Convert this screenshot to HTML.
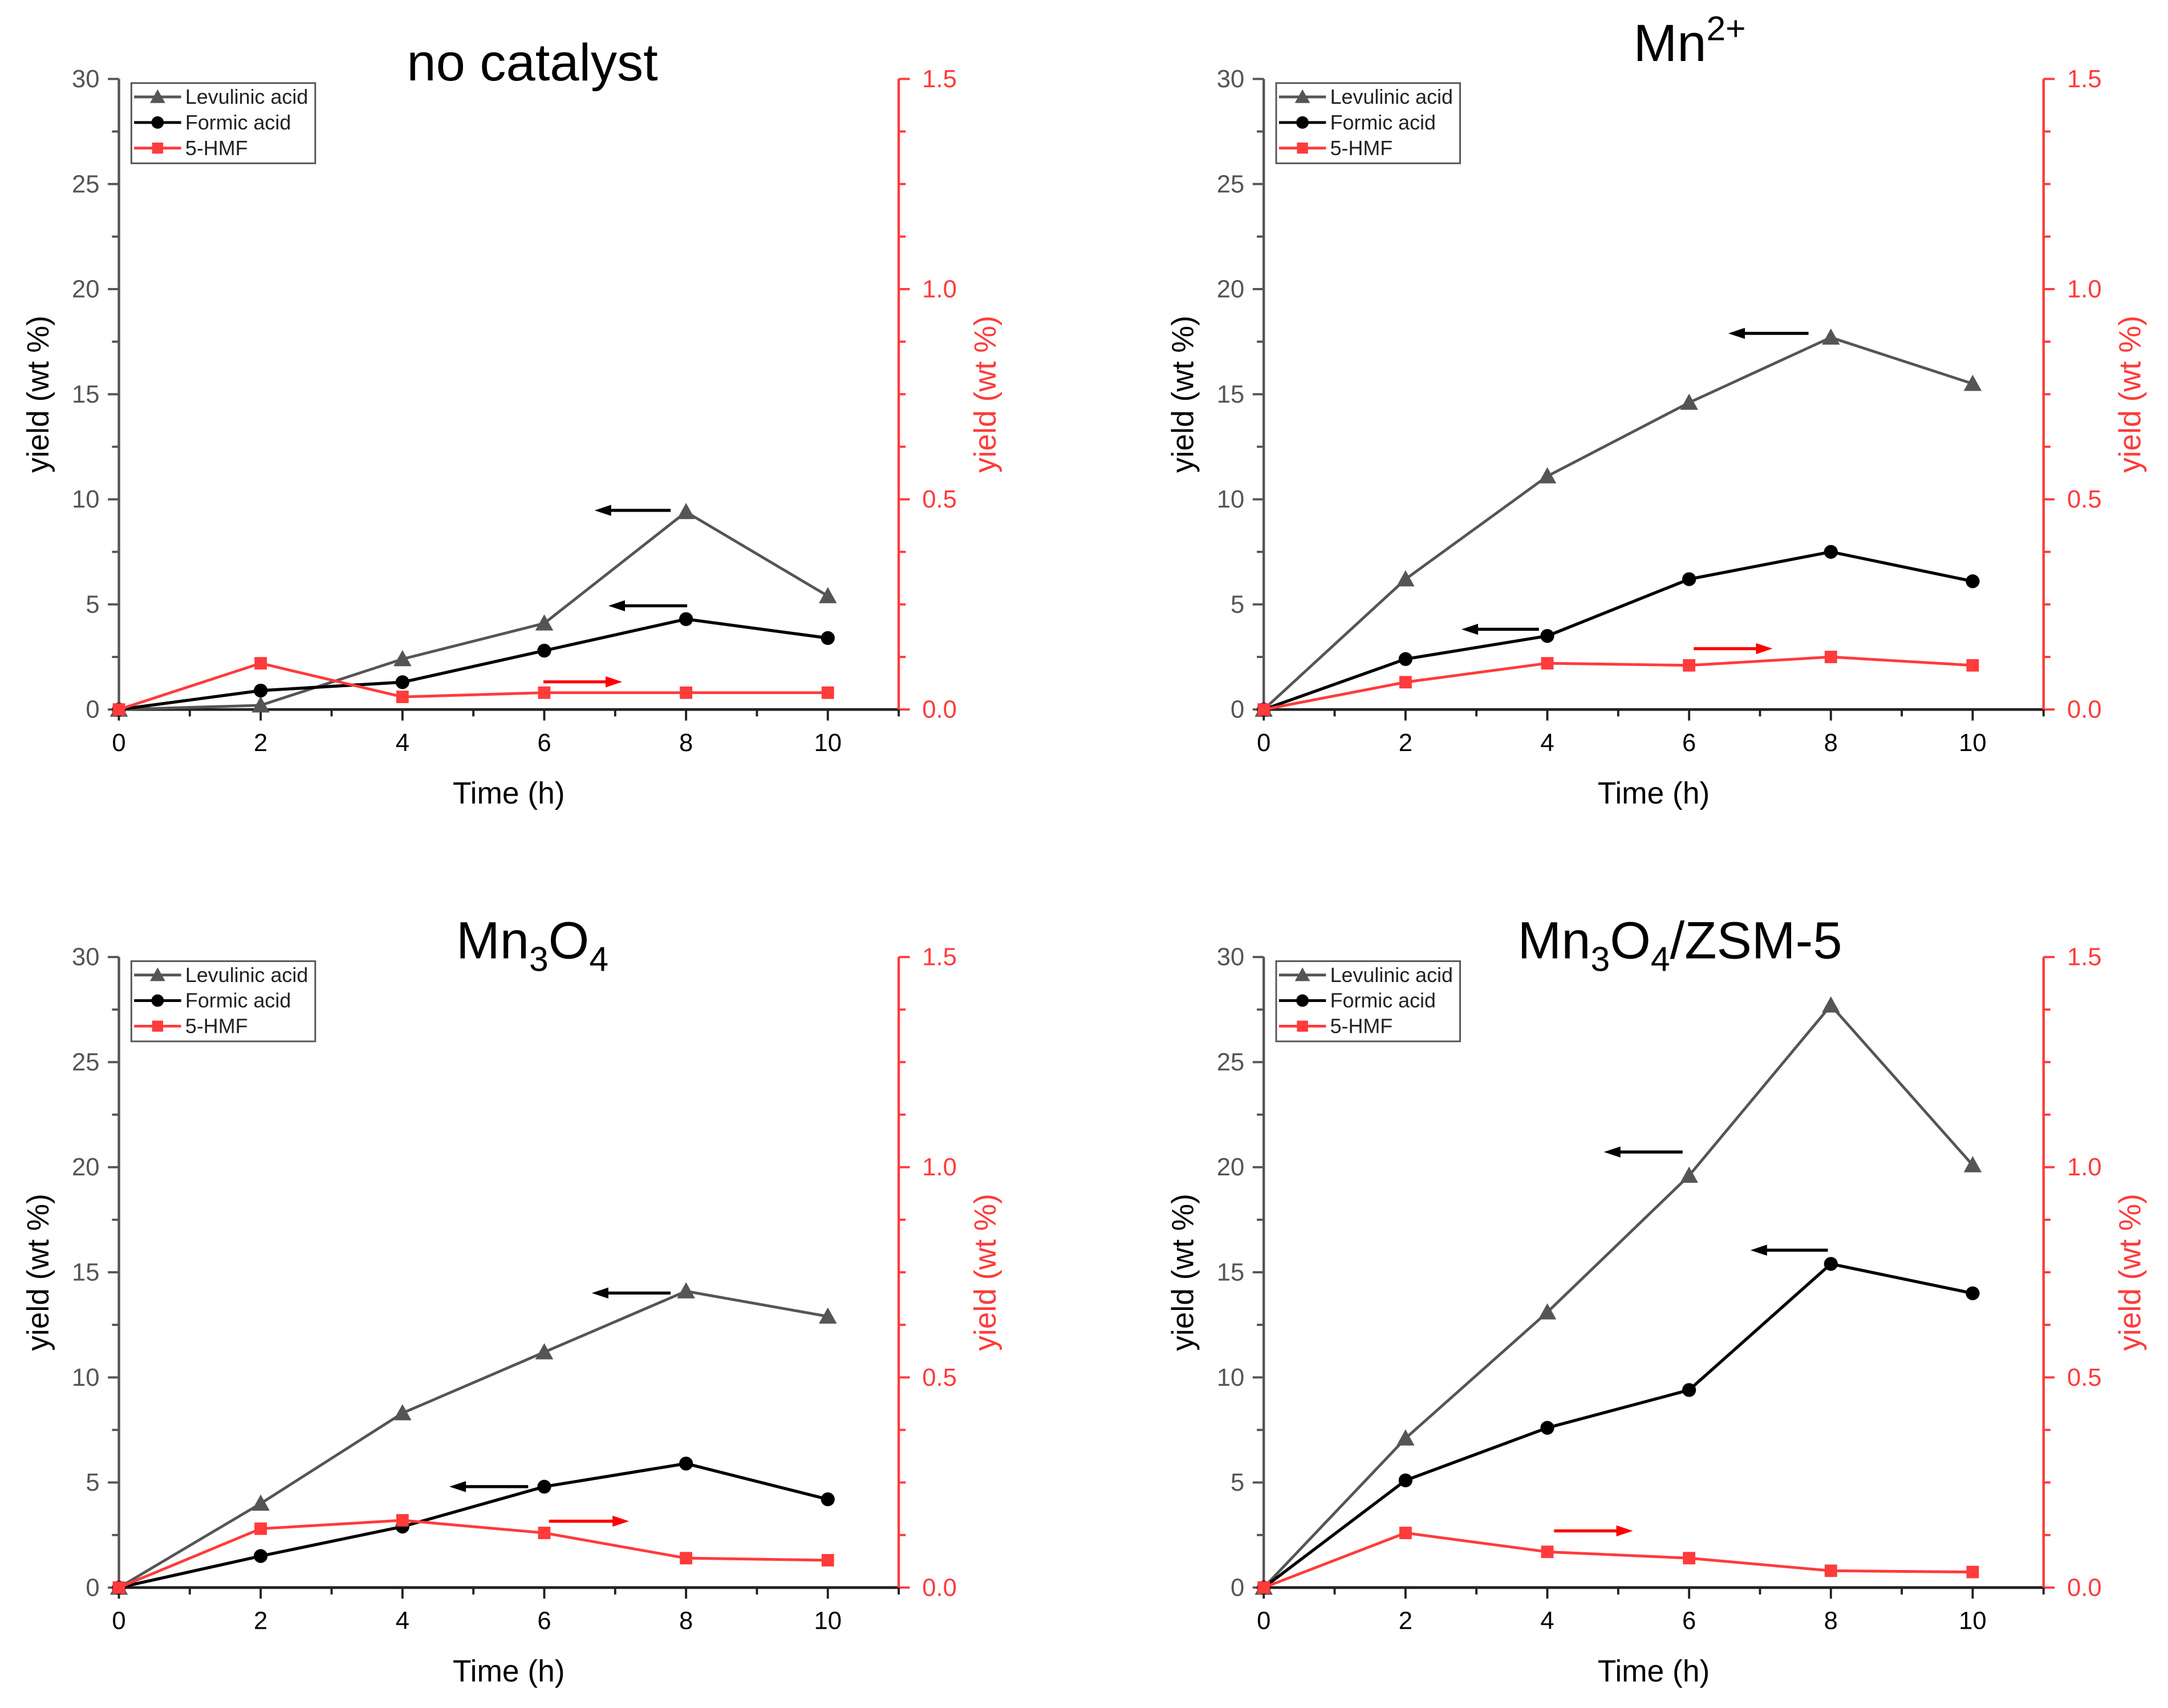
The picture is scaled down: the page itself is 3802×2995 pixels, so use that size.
<!DOCTYPE html>
<html><head><meta charset="utf-8"><style>
html,body{margin:0;padding:0;background:#fff;}
svg{display:block;font-family:"Liberation Sans",Arial,sans-serif;}
</style></head><body>
<svg id="fig" width="3802" height="2995" viewBox="0 0 1568 1235" xmlns="http://www.w3.org/2000/svg"></svg>
<script>
const times = [0, 2, 4, 6, 8, 10];
const panelTitles = ["no catalyst", "Mn2+", "Mn3O4", "Mn3O4/ZSM-5"];
const laNoCat = [0, 0.2, 2.4, 4.1, 9.4, 5.4];
const faNoCat = [0, 0.9, 1.3, 2.8, 4.3, 3.4];
const hmfNoCat = [0, 0.11, 0.03, 0.04, 0.04, 0.04];
const laMn2 = [0, 6.2, 11.1, 14.6, 17.7, 15.5];
const faMn2 = [0, 2.4, 3.5, 6.2, 7.5, 6.1];
const hmfMn2 = [0, 0.065, 0.11, 0.105, 0.125, 0.105];
const laMn3O4 = [0, 4.0, 8.3, 11.2, 14.1, 12.9];
const faMn3O4 = [0, 1.5, 2.9, 4.8, 5.9, 4.2];
const hmfMn3O4 = [0, 0.14, 0.16, 0.13, 0.07, 0.065];
const laZsm = [0, 7.1, 13.1, 19.6, 27.7, 20.1];
const faZsm = [0, 5.1, 7.6, 9.4, 15.4, 14.0];
const hmfZsm = [0, 0.13, 0.085, 0.07, 0.04, 0.037];
const xTicks = [0, 2, 4, 6, 8, 10];
const yLeftTicks = [0, 5, 10, 15, 20, 25, 30];
const yRightTicks = ["0.0", "0.5", "1.0", "1.5"];
const legendLabels = ["Levulinic acid", "Formic acid", "5-HMF"];

const NS = "http://www.w3.org/2000/svg";
const svg = document.getElementById("fig");
function mk(tag, attrs, parent, text) {
  const e = document.createElementNS(NS, tag);
  for (const k in attrs) e.setAttribute(k, attrs[k]);
  if (text !== undefined) e.textContent = text;
  (parent || svg).appendChild(e);
  return e;
}
const L = 86, R = 650, T = 57, B = 513;
const xs = t => L + t * (R - L) / 11;
const yl = v => B - v * (B - T) / 30;
const yr = v => B - v * (B - T) / 1.5;
const GRAY = "#555", RED = "#ff3b3b";

const panels = [
  {dx:0, dy:0, la:laNoCat, fa:faNoCat, hmf:hmfNoCat, title:"nocat",
   arrows:[[485,430,369,"#000"],[497,440,438,"#000"],[393,450,493,"red"]]},
  {dx:828, dy:0, la:laMn2, fa:faMn2, hmf:hmfMn2, title:"mn2",
   arrows:[[480,422,241,"#000"],[285,229,455,"#000"],[397,454,469,"red"]]},
  {dx:0, dy:635, la:laMn3O4, fa:faMn3O4, hmf:hmfMn3O4, title:"mn3o4",
   arrows:[[485,428,300,"#000"],[382,325,440,"#000"],[397,455,465,"red"]]},
  {dx:828, dy:635, la:laZsm, fa:faZsm, hmf:hmfZsm, title:"zsm",
   arrows:[[389,332,198,"#000"],[494,438,269,"#000"],[296,353,472,"red"]]}
];

function arrowHead(g, x1, x2, y, col) {
  const dir = x2 < x1 ? -1 : 1;
  mk("line",{x1:x1,y1:y,x2:x2-dir*8,y2:y,stroke:col,"stroke-width":2.2},g);
  mk("polygon",{points:`${x2},${y} ${x2-dir*12},${y-4} ${x2-dir*12},${y+4}`,fill:col},g);
}
function tri(g,x,y,s,fill){return mk("polygon",{points:`${x},${y-s} ${x-s},${y+s*0.8} ${x+s},${y+s*0.8}`,fill:fill},g);}

panels.forEach((p, pi) => {
  const g = mk("g",{transform:`translate(${p.dx},${p.dy})`});
  
  
  let tt;
  const TS = 38, SS = 25;
  if (pi === 0) tt = mk("text",{x:385,y:58,"font-size":TS,"text-anchor":"middle"},g,"no catalyst");
  else if (pi === 1) { tt = mk("text",{x:394,y:44,"font-size":TS,"text-anchor":"middle"},g,"Mn"); mk("tspan",{"font-size":SS,dy:-15},tt,"2+"); }
  else if (pi === 2) { tt = mk("text",{x:385,y:58,"font-size":TS,"text-anchor":"middle"},g,"Mn"); mk("tspan",{"font-size":SS,dy:9},tt,"3"); mk("tspan",{dy:-9},tt,"O"); mk("tspan",{"font-size":SS,dy:9},tt,"4"); }
  else { tt = mk("text",{x:387,y:58,"font-size":TS,"text-anchor":"middle"},g,"Mn"); mk("tspan",{"font-size":SS,dy:9},tt,"3"); mk("tspan",{dy:-9},tt,"O"); mk("tspan",{"font-size":SS,dy:9},tt,"4"); mk("tspan",{dy:-9},tt,"/ZSM-5"); }
  
  
  const ax = mk("g",{},g);
  
  
  mk("line",{x1:L,y1:T,x2:L,y2:B,stroke:GRAY,"stroke-width":1.8},ax);
  mk("line",{x1:L,y1:B,x2:R,y2:B,stroke:"#222","stroke-width":2},ax);
  mk("line",{x1:R,y1:T,x2:R,y2:B,stroke:RED,"stroke-width":1.8},ax);
  for (let v=0; v<=30; v+=2.5) {
    const major = v%5===0;
    mk("line",{x1:L-(major?8:5),y1:yl(v),x2:L,y2:yl(v),stroke:GRAY,"stroke-width":1.6},ax);
  }
  yLeftTicks.forEach(v => {
    const t = mk("text",{x:L-14,y:yl(v)+6,"font-size":18,fill:GRAY,"text-anchor":"end"},ax,String(v));
    
    
  });
  for (let i=0;i<=12;i++){
    const v = i*0.125;
    const major = i%4===0;
    mk("line",{x1:R,y1:yr(v),x2:R+(major?8:5),y2:yr(v),stroke:RED,"stroke-width":1.6},ax);
  }
  yRightTicks.forEach(s => {
    const t = mk("text",{x:R+17,y:yr(parseFloat(s))+6,"font-size":18,fill:RED},ax,s);
    
    
  });
  for (let t=0;t<=11;t++){
    mk("line",{x1:xs(t),y1:B,x2:xs(t),y2:B+(t%2===0?8:5),stroke:"#222","stroke-width":1.6},ax);
  }
  xTicks.forEach(v => {
    const t = mk("text",{x:xs(v),y:B+30,"font-size":18,"text-anchor":"middle"},ax,String(v));
    
    
  });
  const xt = mk("text",{x:368,y:581,"font-size":22,"text-anchor":"middle"},g,"Time (h)");
  
  
  const ylt = mk("text",{x:0,y:0,"font-size":22,"text-anchor":"middle",transform:`translate(35,285) rotate(-90)`},g,"yield (wt %)");
  
  
  const yrt = mk("text",{x:0,y:0,"font-size":22,fill:RED,"text-anchor":"middle",transform:`translate(720,285) rotate(-90)`},g,"yield (wt %)");
  
  
  const series = [
    {vals:p.la, fy:yl, col:GRAY, w:2, mark:"tri", name:"levulinic-acid"},
    {vals:p.fa, fy:yl, col:"#000", w:2.2, mark:"circ", name:"formic-acid"},
    {vals:p.hmf, fy:yr, col:RED, w:2, mark:"sq", name:"5-hmf"}
  ];
  series.forEach(s => {
    const sg = mk("g",{},g);
    
    
    const pts = times.map((t,i)=>`${xs(t)},${s.fy(s.vals[i])}`).join(" ");
    mk("polyline",{points:pts,fill:"none",stroke:s.col,"stroke-width":s.w},sg);
    times.forEach((t,i)=>{
      const x = xs(t), y = s.fy(s.vals[i]);
      let m;
      if (s.mark==="tri") m = tri(sg,x,y,6.5,GRAY);
      else if (s.mark==="circ") m = mk("circle",{cx:x,cy:y,r:5,fill:"#000"},sg);
      else m = mk("rect",{x:x-4.5,y:y-4.5,width:9,height:9,fill:RED},sg);
      
      
    });
  });
  p.arrows.forEach(a => {
    const ag = mk("g",{},g);
    
    
    arrowHead(ag, a[0], a[1], a[2], a[3]);
  });
  const lg = mk("g",{},g);
  
  
  mk("rect",{x:95,y:60,width:133,height:58,fill:"#fff",stroke:"#555","stroke-width":1.2},lg);
  const lcols = [GRAY,"#000",RED];
  legendLabels.forEach((lab,i)=>{
    const y = 70 + i*18.5;
    const eg = mk("g",{},lg);
    
    
    mk("line",{x1:97,y1:y,x2:131,y2:y,stroke:lcols[i],"stroke-width":2},eg);
    if (i===0) tri(eg,114,y,5.5,GRAY);
    else if (i===1) mk("circle",{cx:114,cy:y,r:4.5,fill:"#000"},eg);
    else mk("rect",{x:110,y:y-4,width:8,height:8,fill:RED},eg);
    mk("text",{x:134,y:y+5,"font-size":14.8,fill:"#222"},eg,lab);
  });
});
</script>
</body></html>
